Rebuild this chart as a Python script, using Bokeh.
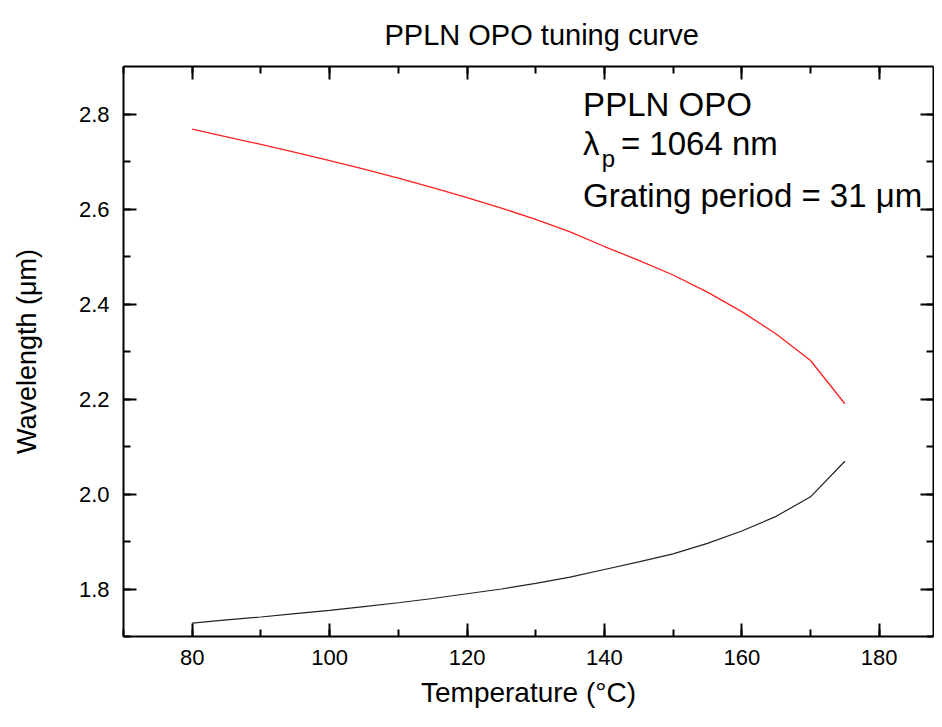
from bokeh.plotting import figure
from bokeh.models import LinearAxis, SingleIntervalTicker, Range1d, Label, PrintfTickFormatter
from bokeh.embed import file_html
from bokeh.resources import INLINE

# ---- data ----
temperature = [80, 85, 90, 95, 100, 105, 110, 115, 120, 125,
               130, 135, 140, 145, 150, 155, 160, 165, 170, 175]
idler_um = [2.768, 2.752, 2.736, 2.719, 2.702, 2.684, 2.665, 2.645, 2.624, 2.602,
            2.578, 2.552, 2.521, 2.492, 2.461, 2.425, 2.384, 2.337, 2.281, 2.190]
signal_um = [1.728, 1.735, 1.741, 1.748, 1.755, 1.763, 1.771, 1.780, 1.790, 1.800,
             1.812, 1.825, 1.841, 1.857, 1.874, 1.896, 1.922, 1.953, 1.994, 2.069]

title_text = "PPLN OPO tuning curve"
x_label = "Temperature (\u00b0C)"
y_label = "Wavelength (\u03bcm)"
note_line1 = "PPLN OPO"
note_lambda = "\u03bb"
note_sub = "p"
note_line2 = "= 1064 nm"
note_line3 = "Grating period = 31 \u03bcm"

FONT = "Liberation Sans"

p = figure(width=934, height=711, output_backend="svg", toolbar_location=None,
           x_range=Range1d(70, 187.9), y_range=Range1d(1.7, 2.9),
           min_border_left=123, min_border_right=1,
           min_border_top=66, min_border_bottom=75,
           x_axis_label=x_label, y_axis_label=y_label,
           background_fill_color="white", border_fill_color="white")
p.outline_line_color = None
p.xgrid.visible = False
p.ygrid.visible = False

p.title.text = title_text
p.title.align = "left"
p.title.offset = 261
p.title.text_font = FONT
p.title.text_font_size = "29px"
p.title.text_font_style = "normal"
p.title.text_color = "black"
p.title.standoff = 31


def style_axis(ax, labels=True):
    ax.axis_line_width = 2
    ax.axis_line_color = "black"
    ax.major_tick_in = 13
    ax.major_tick_out = 0
    ax.minor_tick_in = 7
    ax.minor_tick_out = 0
    ax.major_tick_line_width = 2
    ax.minor_tick_line_width = 2
    ax.major_tick_line_color = "black"
    ax.minor_tick_line_color = "black"
    if labels:
        ax.major_label_text_font = FONT
        ax.major_label_text_font_size = "22px"
        ax.major_label_text_color = "black"
        ax.axis_label_text_font = FONT
        ax.axis_label_text_font_style = "normal"
        ax.axis_label_text_color = "black"
    else:
        ax.major_label_text_font_size = "0px"
        ax.major_label_text_alpha = 0
        ax.major_label_standoff = 0


p.xaxis.ticker = SingleIntervalTicker(interval=20, num_minor_ticks=2)
p.yaxis.ticker = SingleIntervalTicker(interval=0.2, num_minor_ticks=2)
p.yaxis.formatter = PrintfTickFormatter(format="%.1f")
for ax in p.xaxis:
    style_axis(ax)
    ax.axis_label_text_font_size = "28px"
    ax.major_label_standoff = 13
    ax.axis_label_standoff = 9
for ax in p.yaxis:
    style_axis(ax)
    ax.axis_label_text_font_size = "27px"
    ax.major_label_standoff = 14
    ax.axis_label_standoff = 34

top_axis = LinearAxis(ticker=SingleIntervalTicker(interval=20, num_minor_ticks=2))
style_axis(top_axis, labels=False)
p.add_layout(top_axis, "above")
right_axis = LinearAxis(ticker=SingleIntervalTicker(interval=0.2, num_minor_ticks=2))
style_axis(right_axis, labels=False)
p.add_layout(right_axis, "right")

p.line(temperature, idler_um, line_color="#ff2020", line_width=1.3)
p.line(temperature, signal_um, line_color="#222222", line_width=1.2)

note_kw = dict(text_font=FONT, text_color="black", text_baseline="alphabetic")
p.add_layout(Label(x=136.9, y=2.820, text=note_line1, text_font_size="33px", **note_kw))
p.add_layout(Label(x=136.9, y=2.738, text=note_lambda, text_font_size="33px", **note_kw))
p.add_layout(Label(x=139.6, y=2.706, text=note_sub, text_font_size="24px", **note_kw))
p.add_layout(Label(x=142.4, y=2.738, text=note_line2, text_font_size="33px", **note_kw))
p.add_layout(Label(x=136.9, y=2.628, text=note_line3, text_font_size="33px", **note_kw))

open("out.html", "w").write(file_html(p, INLINE))
